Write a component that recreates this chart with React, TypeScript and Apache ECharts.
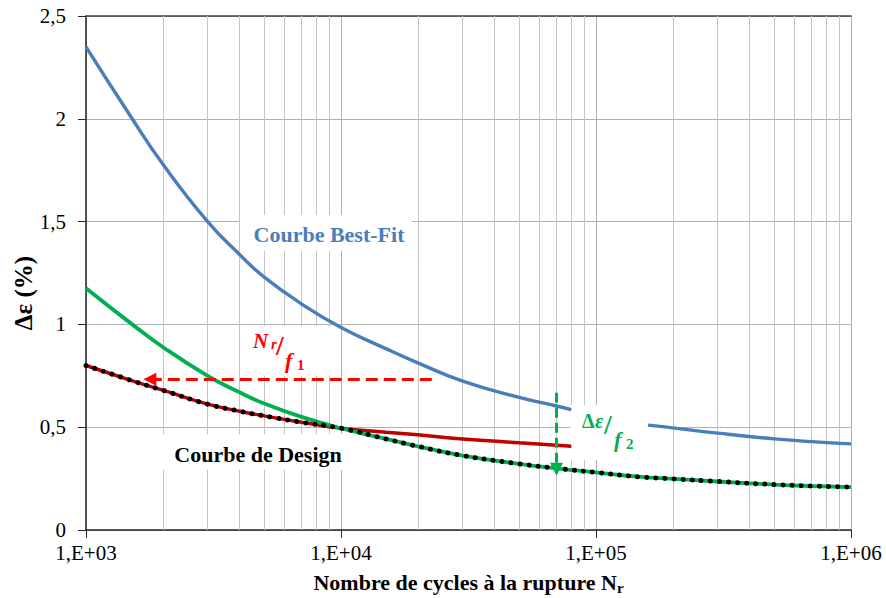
import React, { useEffect, useRef } from 'react';
import * as echarts from 'echarts';

// Nombre de cycles (N) and Δε (%) values
const N_BEST = [1000, 1500, 2000, 3000, 4000, 5000, 7000, 10000, 15000, 20000, 30000, 50000, 70000, 80000, 100000, 160000, 200000, 300000, 500000, 700000, 1000000];
const BEST_FIT = [2.35, 2.01, 1.78, 1.5, 1.34, 1.23, 1.1, 0.985, 0.882, 0.813, 0.724, 0.645, 0.603, 0.585, null, 0.51, 0.497, 0.471, 0.443, 0.43, 0.419];

const N_RED = [1000, 1500, 2000, 3000, 4000, 5000, 7000, 10000, 15000, 20000, 30000, 50000, 80000];
const NR_F1 = [0.8, 0.728, 0.68, 0.612, 0.578, 0.555, 0.524, 0.495, 0.476, 0.463, 0.443, 0.424, 0.407];

const N_GREEN = [1000, 1500, 2000, 3000, 4000, 5000, 7000, 10000, 15000, 20000, 30000, 50000, 70000, 100000, 150000, 200000, 300000, 500000, 700000, 1000000];
const DE_F2 = [1.176, 1.005, 0.89, 0.75, 0.67, 0.615, 0.55, 0.495, 0.443, 0.407, 0.362, 0.322, 0.3, 0.28, 0.258, 0.249, 0.236, 0.221, 0.214, 0.209];

const N_DESIGN = [1000, 1500, 2000, 3000, 4000, 5000, 7000, 10000, 15000, 20000, 30000, 50000, 70000, 100000, 150000, 200000, 300000, 500000, 700000, 1000000];
const DESIGN = [0.8, 0.728, 0.68, 0.612, 0.578, 0.555, 0.524, 0.495, 0.443, 0.407, 0.362, 0.322, 0.3, 0.28, 0.258, 0.249, 0.236, 0.221, 0.214, 0.209];

const MINOR_X = [2000, 3000, 4000, 5000, 6000, 7000, 8000, 9000, 20000, 30000, 40000, 50000, 60000, 70000, 80000, 90000, 200000, 300000, 400000, 500000, 600000, 700000, 800000, 900000];

const ARROW_NR = [[22700, 0.733], [1780, 0.733]];
const ARROW_DE = [[70000, 0.668], [70000, 0.295]];

const Y_TICKS = ['0', '0,5', '1', '1,5', '2', '2,5'];

const pairs = (xs: number[], ys: (number | null)[]) => xs.map((x, i) => [x, ys[i]]);

const SERIF = 'Liberation Serif';
const FONT = "'Liberation Serif', serif";
const BLUE = '#4a7ebb';
const GREEN = '#00b050';
const DARKRED = '#c00000';
const RED = '#ff0000';

export default function App() {
  const ref = useRef<HTMLDivElement>(null);
  useEffect(() => {
    if (!ref.current) return;
    const chart = echarts.init(ref.current, undefined, { renderer: 'svg' });
    const whiteBox = (x: number, y: number, w: number, h: number) => ({
      type: 'rect', z: 2, silent: true, shape: { x, y, width: w, height: h }, style: { fill: '#ffffff' },
    });
    const txt = (x: number, y: number, text: string, font: string, fill: string, align = 'left', va = 'top', rotation = 0) => ({
      type: 'text', z: 10, silent: true, x, y, rotation,
      style: { text, font, fill, textAlign: align, textVerticalAlign: va },
    });
    const curve = { symbol: 'none', smooth: 0.5, silent: true };
    const option: any = {
      animation: false,
      backgroundColor: '#ffffff',
      grid: { left: 86, right: 35, top: 16, bottom: 68, containLabel: false, outerBoundsMode: 'none' },
      xAxis: [
        {
          type: 'log', logBase: 10, min: 1000, max: 1000000,
          name: '{a|Nombre de cycles à la rupture N}{b|r}',
          nameLocation: 'middle', nameGap: 39,
          nameTextStyle: {
            rich: {
              a: { fontFamily: SERIF, fontWeight: 'bold', fontSize: 22, color: '#000', lineHeight: 26 },
              b: { fontFamily: SERIF, fontWeight: 'bold', fontSize: 15, color: '#000', lineHeight: 15, verticalAlign: 'bottom' },
            },
          },
          axisLine: { show: true, lineStyle: { color: '#262626', width: 1.5 } },
          axisTick: { show: true, inside: false, length: 8, lineStyle: { color: '#262626', width: 1 } },
          axisLabel: {
            fontFamily: SERIF, fontSize: 21, color: '#000', margin: 12,
            formatter: (v: number) => '1,E+0' + Math.round(Math.log10(v)),
          },
          splitLine: { show: true, lineStyle: { color: '#b0b0b0', width: 1 } },
          minorTick: { show: false },
        },
        {
          type: 'log', logBase: 10, min: 1000, max: 1000000, position: 'top',
          axisLine: { show: true, lineStyle: { color: '#404040', width: 1.5 } },
          axisTick: { show: false }, axisLabel: { show: false }, splitLine: { show: false },
        },
      ],
      yAxis: {
        type: 'value', min: 0, max: 2.5, interval: 0.5,
        axisLine: { show: true, lineStyle: { color: '#262626', width: 1.5 } },
        axisTick: { show: true, inside: false, length: 8, lineStyle: { color: '#262626', width: 1 } },
        axisLabel: {
          fontFamily: SERIF, fontSize: 21, color: '#000', margin: 20,
          formatter: (v: number) => Y_TICKS[Math.round(v / 0.5)],
        },
        splitLine: { show: true, lineStyle: { color: '#b0b0b0', width: 1 } },
      },
      series: [
        {
          type: 'line', name: 'grid', z: 1, data: [[1000, 0]], symbol: 'none', silent: true,
          lineStyle: { opacity: 0 },
          markLine: {
            silent: true, z: 1, symbol: ['none', 'none'], animation: false,
            label: { show: false },
            lineStyle: { color: '#c4c4c4', width: 1, type: 'solid' },
            emphasis: { disabled: true },
            data: MINOR_X.map((v) => ({ xAxis: v })),
          },
        },
        {
          type: 'line', name: 'Nr/f1', z: 3, data: pairs(N_RED, NR_F1), ...curve,
          lineStyle: { color: DARKRED, width: 3.5 },
        },
        {
          type: 'line', name: 'Δε/f2', z: 3, data: pairs(N_GREEN, DE_F2), ...curve,
          lineStyle: { color: GREEN, width: 3.8 },
        },
        {
          type: 'line', name: 'Courbe Best-Fit', z: 3, data: pairs(N_BEST, BEST_FIT), ...curve,
          connectNulls: false, lineStyle: { color: BLUE, width: 3.4 },
        },
        {
          type: 'line', name: 'Courbe de Design', z: 4, data: pairs(N_DESIGN, DESIGN), ...curve,
          lineStyle: { color: '#000', width: 5, type: [0.1, 9], cap: 'round' },
        },
        {
          type: 'line', name: 'arrows', z: 6, data: [[1000, 0]], symbol: 'none', silent: true,
          lineStyle: { opacity: 0 },
          markLine: {
            silent: true, z: 6, symbol: ['none', 'triangle'], symbolSize: [13, 13], animation: false,
            label: { show: false },
            emphasis: { disabled: true },
            data: [
              [
                { coord: ARROW_NR[0], lineStyle: { color: RED, width: 3, type: [12, 6] } },
                { coord: ARROW_NR[1] },
              ],
              [
                { coord: ARROW_DE[0], lineStyle: { color: GREEN, width: 3, type: [10, 5] } },
                { coord: ARROW_DE[1] },
              ],
            ],
          },
        },
      ],
      graphic: {
        elements: [
          whiteBox(240, 215, 172, 36),
          whiteBox(155, 434, 205, 36),
          whiteBox(242, 326, 88, 50),
          whiteBox(570, 405, 102, 55),
          txt(23, 293, 'Δε (%)', `bold 25px ${FONT}`, '#000', 'center', 'middle', Math.PI / 2),
          txt(329, 234, 'Courbe Best-Fit', `bold 22px ${FONT}`, BLUE, 'center', 'middle'),
          txt(258, 454, 'Courbe de Design', `bold 22px ${FONT}`, '#000', 'center', 'middle'),
          txt(253, 330, 'N', `italic bold 21px ${FONT}`, RED),
          txt(271, 336, 'r', `italic bold 15px ${FONT}`, RED),
          txt(276, 331, '/', `bold 28px ${FONT}`, RED),
          txt(285, 349, 'f', `italic bold 22px ${FONT}`, RED),
          txt(297, 357, '1', `bold 15px ${FONT}`, RED),
          txt(582, 411, 'Δ', `bold 20px ${FONT}`, GREEN),
          txt(595, 411, 'ε', `italic bold 20px ${FONT}`, GREEN),
          txt(604, 410, '/', `bold 28px ${FONT}`, GREEN),
          txt(614, 428, 'f', `italic bold 22px ${FONT}`, GREEN),
          txt(626, 436, '2', `bold 15px ${FONT}`, GREEN),
        ],
      },
    };
    chart.setOption(option);
    return () => chart.dispose();
  }, []);
  return <div ref={ref} style={{ position: 'fixed', left: 0, top: 0, width: 886, height: 598, background: '#fff' }} />;
}
